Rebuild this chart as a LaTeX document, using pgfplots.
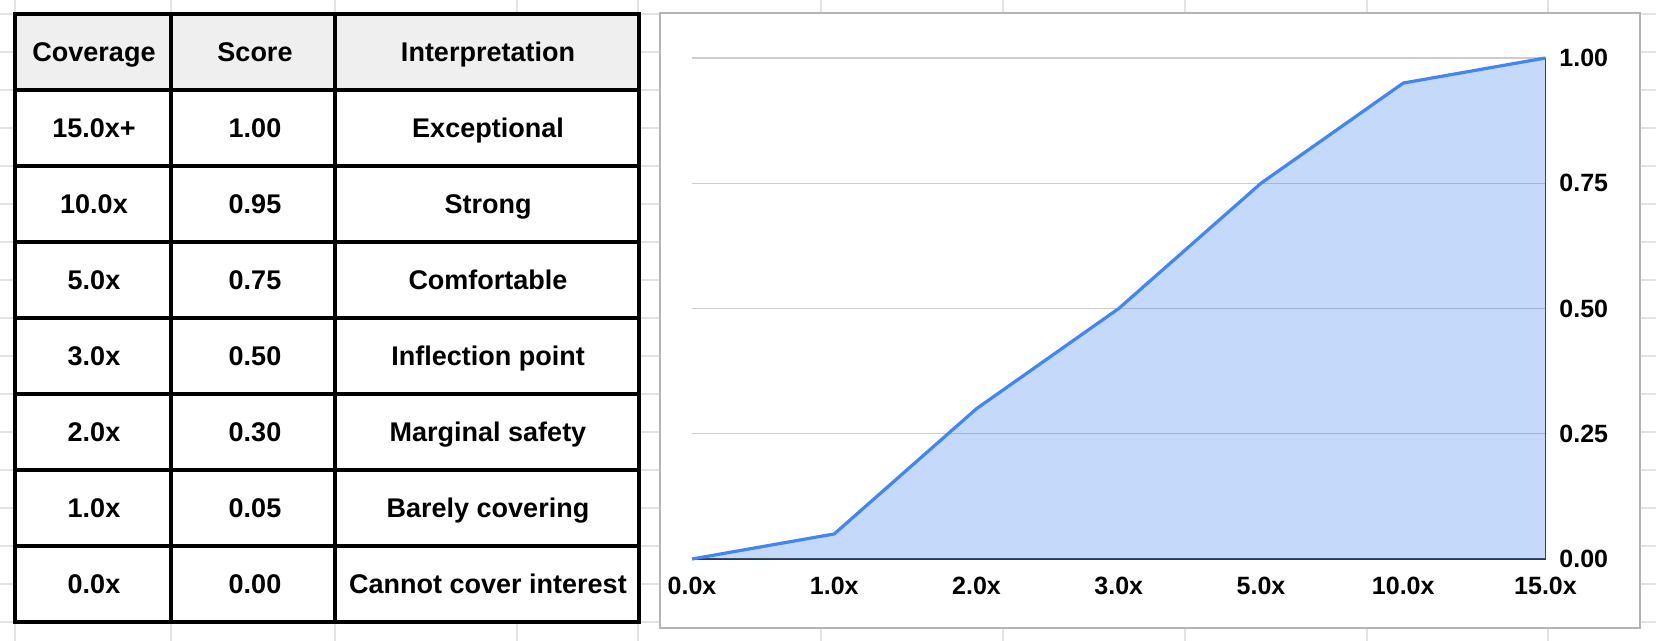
\documentclass[border=0pt]{standalone}
\usepackage{fontspec}
\setmainfont{Liberation Sans}
\usepackage{pgfplots}
\usepackage{pgfplotstable}
\pgfplotsset{compat=1.18}
\definecolor{gline}{HTML}{E2E2E3}
\definecolor{hdr}{HTML}{EFEFEF}
\definecolor{gblue}{HTML}{4285F4}
\definecolor{boxc}{HTML}{B4B4B4}
\definecolor{gridc}{HTML}{CCCCCC}
\definecolor{axc}{HTML}{333333}

\pgfplotstableread{
x y
0 0.00
1 0.05
2 0.30
3 0.50
4 0.75
5 0.95
6 1.00
}\covdata

\begin{document}
\begin{tikzpicture}
\useasboundingbox (0,0) rectangle (828pt,-320.5pt);
\clip (0,0) rectangle (828pt,-320.5pt);
\begin{scope}[x=0.5pt,y=-0.5pt]
\fill[white] (0,0) rectangle (1656,641);
% spreadsheet grid
\foreach \yy in {14,52,...,622} \draw[gline, line width=0.8pt] (0,\yy) -- (1656,\yy);
\foreach \xx in {15,171,335,517,638,821,1003,1185,1367,1548} \draw[gline,line width=0.8pt] (\xx,0) -- (\xx,641);
% table
\fill[white] (15,14) rectangle (639,622);
\fill[hdr] (15,14) rectangle (639,90);
\foreach \yy in {14,90,...,622} \draw[black, line width=2pt, line cap=rect] (15,\yy) -- (639,\yy);
\foreach \xx in {15,171,335,639} \draw[black, line width=2pt, line cap=rect] (\xx,14) -- (\xx,622);
\tikzset{tc/.style={anchor=base, inner sep=0pt, font=\fontsize{13.5}{16}\selectfont\bfseries}}
\node[tc] at (94,61.5) {Coverage};
\node[tc] at (255,61.5) {Score};
\node[tc] at (488,61.5) {Interpretation};
\foreach \a/\b/\c [count=\i from 0] in {15.0x+/1.00/Exceptional, 10.0x/0.95/Strong, 5.0x/0.75/Comfortable, 3.0x/0.50/Inflection point, 2.0x/0.30/Marginal safety, 1.0x/0.05/Barely covering, 0.0x/0.00/Cannot cover interest}{
  \pgfmathsetmacro{\yb}{137.5+76*\i}
  \node[tc] at (94,\yb) {\a};
  \node[tc] at (255,\yb) {\b};
  \node[tc] at (488,\yb) {\c};
}
% chart box
\draw[boxc, line width=0.9pt, fill=white] (660,13) rectangle (1640,628);
\end{scope}
\begin{axis}[
  at={(346pt,-279.5pt)}, anchor=south west,
  scale only axis, width=426.75pt, height=250.5pt,
  xmin=0, xmax=6, ymin=0, ymax=1,
  axis x line*=bottom, axis y line*=right,
  axis line style={-, axc, line width=0.75pt},
  xtick={0,1,2,3,4,5,6},
  xticklabels={0.0x,1.0x,2.0x,3.0x,5.0x,10.0x,15.0x},
  ytick={0,0.25,0.5,0.75,1},
  yticklabels={0.00,0.25,0.50,0.75,1.00},
  major tick length=0pt,
  ymajorgrids, grid style={gridc, line width=0.6pt},
  tick label style={font=\fontsize{12.5}{14}\selectfont\bfseries, inner sep=0pt},
  xticklabel style={anchor=center, yshift=-13.5pt},
  yticklabel style={anchor=west, xshift=6.75pt},
  clip=false,
]
\addplot[draw=none, fill=gblue, fill opacity=0.3] table[x=x,y=y] {\covdata} \closedcycle;
\addplot[gblue, line width=1.6pt, line join=round, mark=none] table[x=x,y=y] {\covdata};
\end{axis}
\end{tikzpicture}
\end{document}
